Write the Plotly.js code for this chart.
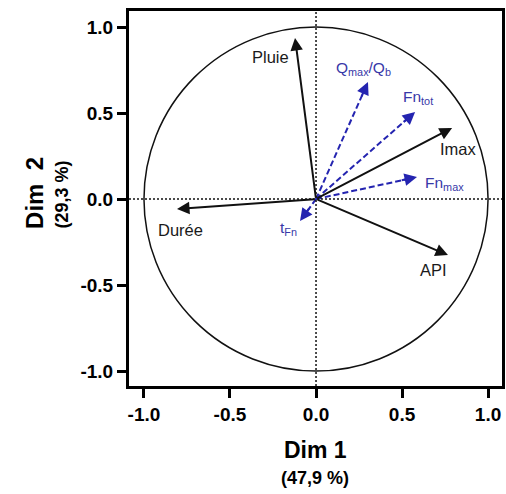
<!DOCTYPE html>
<html>
<head>
<meta charset="utf-8">
<script src="https://cdn.plot.ly/plotly-3.0.1.min.js"></script>
<style>html,body{margin:0;padding:0;background:#fff;}#chart{width:506px;height:494px;}</style>
</head>
<body>
<div id="chart"></div>
<script>
// Variables (active, black solid arrows)
var activeNames = ['Pluie', 'Imax', 'API', 'Durée'];
var activeDim1  = [-0.122, 0.791, 0.767, -0.808];
var activeDim2  = [ 0.936, 0.413, -0.326, -0.058];

// Supplementary variables (blue dashed arrows)
var suppNames = ['Q<sub>max</sub>/Q<sub>b</sub>', 'Fn<sub>tot</sub>', 'Fn<sub>max</sub>', 't<sub>Fn</sub>'];
var suppDim1  = [0.302, 0.576, 0.587, -0.093];
var suppDim2  = [0.680, 0.506, 0.128, -0.128];

var xTicks = [-1, -0.5, 0, 0.5, 1];
var xTickText = ['-1.0', '-0.5', '0.0', '0.5', '1.0'];
var yTicks = [-1, -0.5, 0, 0.5, 1];
var yTickText = ['-1.0', '-0.5', '0.0', '0.5', '1.0'];

// label pixel offsets (style/layout only)
var activeShift = [[-25, -19], [6, -21], [-14, -15], [3, -21]];
var suppShift   = [[-4, 14], [3, 14], [27, -6], [-12, -7]];

var black = '#111111';
var blue = '#2424b0';
var blueText = '#3838a8';
var FONT = 'Liberation Sans, Arial, sans-serif';

var traces = [];
var annotations = [];

for (var i = 0; i < activeNames.length; i++) {
  annotations.push({
    x: activeDim1[i], y: activeDim2[i], xref: 'x', yref: 'y',
    ax: 0, ay: 0, axref: 'x', ayref: 'y',
    text: '', showarrow: true, arrowhead: 2, arrowsize: 1.25, arrowwidth: 2,
    arrowcolor: black, standoff: 0, startstandoff: 0
  });
  annotations.push({
    x: activeDim1[i], y: activeDim2[i], xref: 'x', yref: 'y',
    text: activeNames[i], showarrow: false,
    xshift: activeShift[i][0], yshift: activeShift[i][1],
    font: {family: FONT, size: 16.5, color: '#1a1a1a'}
  });
}
for (var i = 0; i < suppNames.length; i++) {
  var len = Math.sqrt(suppDim1[i] * suppDim1[i] + suppDim2[i] * suppDim2[i]);
  var fEnd = 1 - 0.05 / len;   // dashed shaft end (just under the head)
  var fStart = 1 - 0.1 / len;  // start of short solid arrow segment
  traces.push({
    type: 'scatter', mode: 'lines',
    x: [0, suppDim1[i] * fEnd], y: [0, suppDim2[i] * fEnd],
    line: {color: blue, width: 2, dash: '6px,3px'},
    hoverinfo: 'skip', showlegend: false
  });
  annotations.push({
    x: suppDim1[i], y: suppDim2[i], xref: 'x', yref: 'y',
    ax: suppDim1[i] * fStart, ay: suppDim2[i] * fStart, axref: 'x', ayref: 'y',
    text: '', showarrow: true, arrowhead: 2, arrowsize: 1.25, arrowwidth: 2,
    arrowcolor: blue, standoff: 0, startstandoff: 0
  });
  annotations.push({
    x: suppDim1[i], y: suppDim2[i], xref: 'x', yref: 'y',
    text: suppNames[i], showarrow: false,
    xshift: suppShift[i][0], yshift: suppShift[i][1],
    font: {family: FONT, size: 15.5, color: blueText}
  });
}

// axis titles
annotations.push({xref: 'paper', yref: 'paper', x: 0.499, y: -0.171, text: '<b>Dim 1</b>',
  showarrow: false, xanchor: 'center', yanchor: 'middle', font: {family: FONT, size: 23, color: '#000'}});
annotations.push({xref: 'paper', yref: 'paper', x: 0.499, y: -0.245, text: '<b>(47,9 %)</b>',
  showarrow: false, xanchor: 'center', yanchor: 'middle', font: {family: FONT, size: 18, color: '#000'}});
annotations.push({xref: 'paper', yref: 'paper', x: -0.252, y: 0.515, text: '<b>Dim  2</b>', textangle: -90,
  showarrow: false, xanchor: 'center', yanchor: 'middle', font: {family: FONT, size: 24, color: '#000'}});
annotations.push({xref: 'paper', yref: 'paper', x: -0.18, y: 0.51, text: '<b>(29,3 %)</b>', textangle: -90,
  showarrow: false, xanchor: 'center', yanchor: 'middle', font: {family: FONT, size: 18, color: '#000'}});

var xr = [-1.087, 1.081], yr = [-1.087, 1.093];

var shapes = [
  {type: 'circle', xref: 'x', yref: 'y', x0: -1, y0: -1, x1: 1, y1: 1,
   line: {color: black, width: 1.5}},
  {type: 'line', xref: 'x', yref: 'y', x0: xr[0], x1: xr[1], y0: 0, y1: 0,
   line: {color: black, width: 1.5, dash: '2px,2px'}},
  {type: 'line', xref: 'x', yref: 'y', x0: 0, x1: 0, y0: yr[0], y1: yr[1],
   line: {color: black, width: 1.5, dash: '2px,2px'}}
];

var axisCommon = {
  showgrid: false, zeroline: false, showline: true, mirror: true,
  linecolor: '#000', linewidth: 3, ticks: 'outside', ticklen: 9, tickwidth: 3,
  tickcolor: '#000', tickfont: {family: FONT, size: 19, color: '#000', weight: 'bold'},
  fixedrange: true
};

var layout = {
  width: 506, height: 494,
  margin: {l: 129, r: 4, t: 11, b: 108},
  paper_bgcolor: '#fff', plot_bgcolor: '#fff',
  showlegend: false,
  xaxis: Object.assign({}, axisCommon, {range: xr, tickvals: xTicks, ticktext: xTickText}),
  yaxis: Object.assign({}, axisCommon, {range: yr, tickvals: yTicks, ticktext: yTickText}),
  shapes: shapes,
  annotations: annotations
};

Plotly.newPlot('chart', traces, layout, {displayModeBar: false, staticPlot: true});
</script>
</body>
</html>
